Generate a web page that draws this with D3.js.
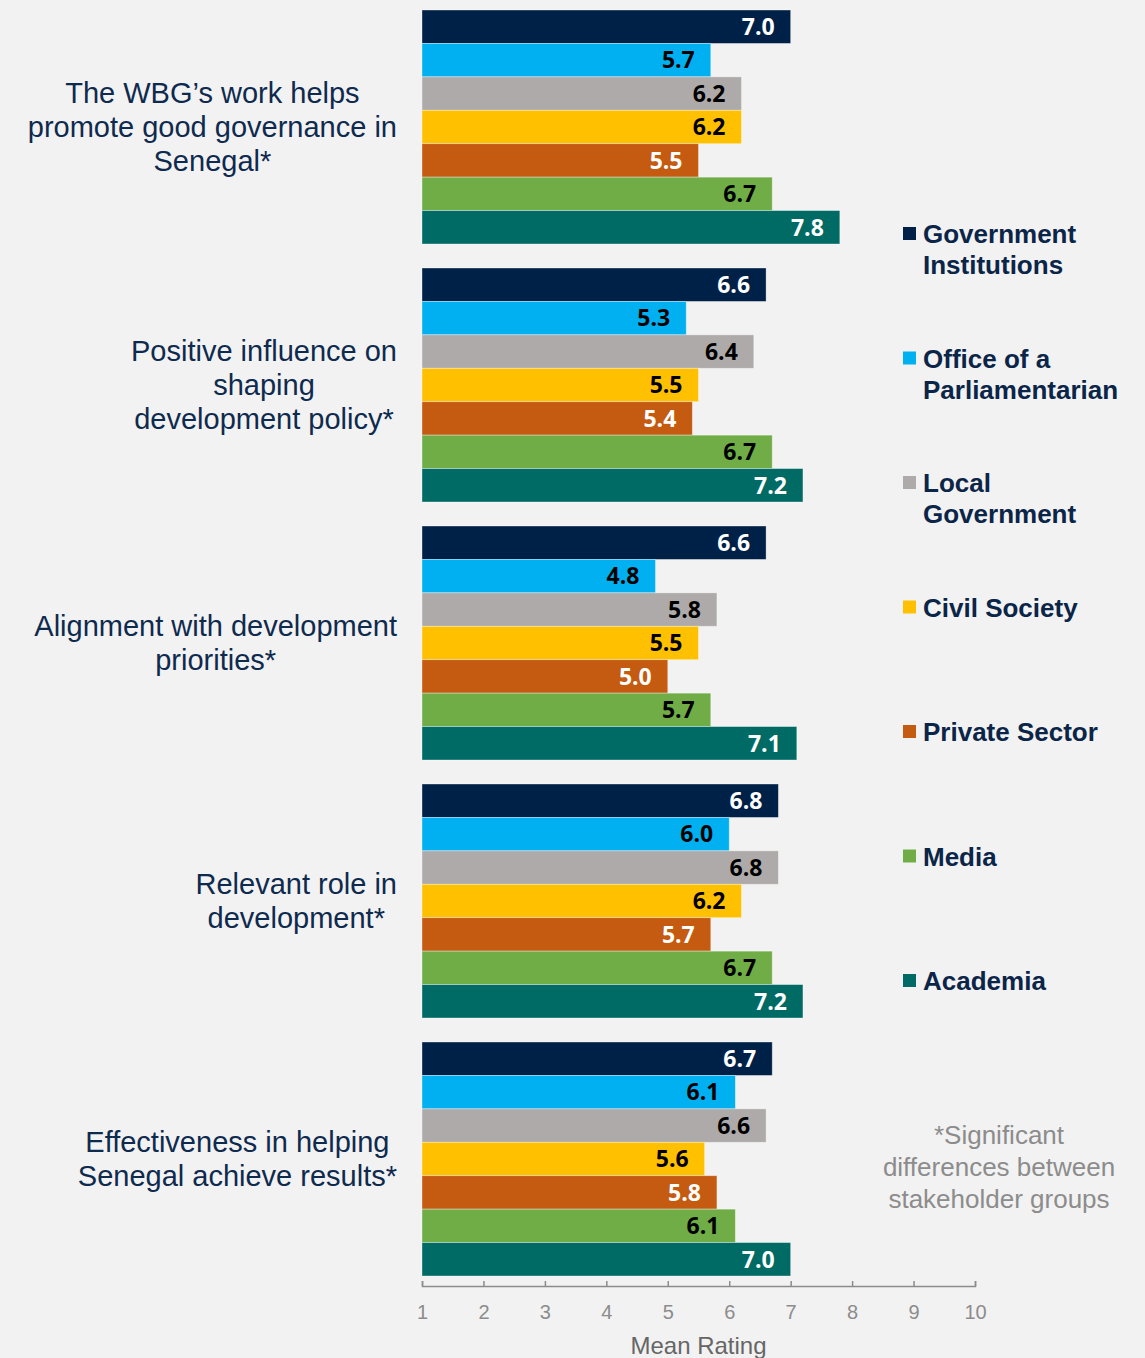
<!DOCTYPE html>
<html><head><meta charset="utf-8">
<script src="https://cdn.jsdelivr.net/npm/d3@7"></script>
<style>html,body{margin:0;padding:0;background:#f2f2f2;}svg{display:block;}</style>
</head><body>
<svg id="chart" width="1145" height="1358"></svg>
<script>
const categoryLines = [
  ["The WBG\u2019s work helps", "promote good governance in", "Senegal*"],
  ["Positive influence on", "shaping", "development policy*"],
  ["Alignment with development", "priorities*"],
  ["Relevant role in", "development*"],
  ["Effectiveness in helping", "Senegal achieve results*"]
];
const seriesNames = ["Government Institutions", "Office of a Parliamentarian", "Local Government", "Civil Society", "Private Sector", "Media", "Academia"];
const legendLines = [["Government","Institutions"],["Office of a","Parliamentarian"],["Local","Government"],["Civil Society"],["Private Sector"],["Media"],["Academia"]];
const govInstitutions = [7.0, 6.6, 6.6, 6.8, 6.7];
const officeParliamentarian = [5.7, 5.3, 4.8, 6.0, 6.1];
const localGovernment = [6.2, 6.4, 5.8, 6.8, 6.6];
const civilSociety = [6.2, 5.5, 5.5, 6.2, 5.6];
const privateSector = [5.5, 5.4, 5.0, 5.7, 5.8];
const media = [6.7, 6.7, 5.7, 6.7, 6.1];
const academia = [7.8, 7.2, 7.1, 7.2, 7.0];
const tickValues = [1,2,3,4,5,6,7,8,9,10];
const axisTitle = "Mean Rating";
const noteLines = ["*Significant", "differences between", "stakeholder groups"];

const seriesValues = [govInstitutions, officeParliamentarian, localGovernment, civilSociety, privateSector, media, academia];
const colors = ["#002147", "#00b0f0", "#aeaaaa", "#ffc000", "#c55a11", "#70ad47", "#006a64"];
const labelColors = ["#ffffff", "#000000", "#000000", "#000000", "#ffffff", "#000000", "#ffffff"];

const svg = d3.select("#chart");
const x = d3.scaleLinear().domain([1, 10]).range([422, 975]);
const catIdx = d3.range(categoryLines.length);
const y0 = d3.scaleBand().domain(catIdx).range([10, 1276]).paddingInner(24/258).paddingOuter(0);
const y1 = d3.scaleBand().domain(d3.range(seriesNames.length)).range([0, y0.bandwidth()]).padding(0);

const groups = svg.selectAll("g.grp").data(catIdx).join("g").attr("class","grp")
  .attr("transform", i => `translate(0,${y0(i)})`);

groups.each(function(ci){
  const g = d3.select(this);
  const rows = seriesValues.map((arr, si) => ({si, v: arr[ci]}));
  g.selectAll("rect").data(rows).join("rect")
    .attr("x", x(1)).attr("y", d => y1(d.si))
    .attr("width", d => x(d.v) - x(1)).attr("height", y1.bandwidth())
    .attr("fill", d => colors[d.si])
    .attr("stroke", "rgba(255,255,255,0.45)").attr("stroke-width", 0.8);
  g.selectAll("text.val").data(rows).join("text").attr("class","val")
    .attr("x", d => x(d.v) - 16).attr("y", d => y1(d.si) + y1.bandwidth()/2)
    .attr("dy", "0.36em").attr("text-anchor", "end")
    .attr("font-family", "'Open Sans', sans-serif").attr("font-weight", "bold").attr("font-size", 23)
    .attr("fill", d => labelColors[d.si])
    .text(d => d.v.toFixed(1));
});

// category labels: block right-aligned at 397, lines centered within block
const catFont = 29, catLH = 34;
catIdx.forEach(ci => {
  const lines = categoryLines[ci];
  const cy = y0(ci) + y0.bandwidth()/2;
  const g = svg.append("g");
  const texts = lines.map((ln, k) => g.append("text")
    .attr("font-family", "'Liberation Sans', Arial, sans-serif").attr("font-size", catFont)
    .attr("fill", "#0e2a4e").attr("text-anchor", "middle")
    .attr("y", cy + (k - (lines.length-1)/2) * catLH).attr("dy", "0.35em").text(ln));
  const maxW = d3.max(texts, t => t.node().getComputedTextLength());
  texts.forEach(t => t.attr("x", 397 - maxW/2));
});

// axis
const axis = d3.axisBottom(x).tickValues(tickValues).tickSizeInner(-5).tickSizeOuter(-5).tickPadding(19).tickFormat(d3.format("d"));
const ax = svg.append("g").attr("transform", "translate(0,1286)").call(axis);
ax.select(".domain").attr("stroke", "#8c8c8c").attr("stroke-width", 1.5);
ax.selectAll(".tick line").attr("stroke", "#8c8c8c").attr("stroke-width", 1.5);
ax.selectAll(".tick text").attr("font-family", "'Liberation Sans', Arial, sans-serif").attr("font-size", 20).attr("fill", "#8c8c8c");
svg.append("text").attr("x", (x(1)+x(10))/2).attr("y", 1346).attr("dy", "0.35em").attr("text-anchor", "middle")
  .attr("font-family", "'Liberation Sans', Arial, sans-serif").attr("font-size", 24).attr("fill", "#666666").text(axisTitle);

// legend
const legY = d3.scalePoint().domain(d3.range(seriesNames.length)).range([234, 981]);
seriesNames.forEach((name, si) => {
  const yy = legY(si);
  svg.append("rect").attr("x", 903).attr("y", yy - 7).attr("width", 13).attr("height", 13).attr("fill", colors[si]);
  legendLines[si].forEach((ln, k) => {
    svg.append("text").attr("x", 923).attr("y", yy + k*31).attr("dy", "0.36em")
      .attr("font-family", "'Liberation Sans', Arial, sans-serif").attr("font-weight", "bold").attr("font-size", 26)
      .attr("fill", "#0b2548").text(ln);
  });
});

// note
noteLines.forEach((ln, k) => {
  svg.append("text").attr("x", 999).attr("y", 1135 + k*32).attr("dy", "0.35em").attr("text-anchor", "middle")
    .attr("font-family", "'Liberation Sans', Arial, sans-serif").attr("font-size", 26).attr("fill", "#8c8c8c").text(ln);
});
</script>
</body></html>
